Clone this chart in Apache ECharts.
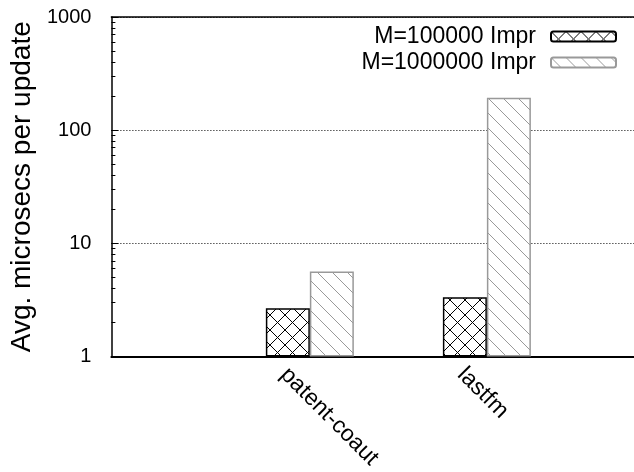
<!DOCTYPE html>
<html>
<head>
<meta charset="utf-8">
<script src="https://cdn.jsdelivr.net/npm/echarts@6/dist/echarts.min.js"></script>
<style>
  html, body { margin: 0; padding: 0; background: #fff; }
  #chart { width: 634px; height: 472px; }
</style>
</head>
<body>
<div id="chart"></div>
<script>
// data
const categories = ['patent-coaut', 'lastfm'];
const seriesNames = ['M=100000 Impr', 'M=1000000 Impr'];
const impr100k = [2.67, 3.34];
const impr1m = [5.65, 193];
const yMajor = [1, 10, 100, 1000];
const yMinor = [2, 3, 4, 5, 6, 7, 8, 9, 20, 30, 40, 50, 60, 70, 80, 90, 200, 300, 400, 500, 600, 700, 800, 900];

const FONT = '"Liberation Sans", Arial, sans-serif';

// gnuplot-like fill patterns
function makeHatch(color, cross, size, lw) {
  const c = document.createElement('canvas');
  c.width = size;
  c.height = size;
  const ctx = c.getContext('2d');
  ctx.fillStyle = '#fff';
  ctx.fillRect(0, 0, size, size);
  ctx.strokeStyle = color;
  ctx.lineWidth = lw;
  for (let k = -1; k <= 1; k++) {
    ctx.beginPath();
    ctx.moveTo(k * size, 0);
    ctx.lineTo(k * size + size, size);
    ctx.stroke();
    if (cross) {
      ctx.beginPath();
      ctx.moveTo(k * size + size, 0);
      ctx.lineTo(k * size, size);
      ctx.stroke();
    }
  }
  return c;
}

const crossPat = { image: makeHatch('#000', true, 15, 1), repeat: 'repeat' };
const hatchPat = { image: makeHatch('#999', false, 15, 1), repeat: 'repeat' };

const chart = echarts.init(document.getElementById('chart'));

const xMin = -1.121;
const xMax = 1.831;

const option = {
  animation: false,
  backgroundColor: '#fff',
  textStyle: { fontFamily: FONT },
  grid: { left: 110, right: 0, top: 17, bottom: 114 },
  legend: {
    orient: 'vertical',
    right: 12,
    top: 20,
    align: 'right',
    itemWidth: 65,
    itemHeight: 10,
    itemGap: 3,
    textStyle: { fontFamily: FONT, fontSize: 23, lineHeight: 23, color: '#000', padding: [0, 10, 0, 0] },
    data: seriesNames
  },
  xAxis: [
    {
      type: 'value',
      min: xMin,
      max: xMax,
      axisLine: { show: true, onZero: false, lineStyle: { color: '#000', width: 2 } },
      axisTick: { show: false },
      splitLine: { show: false },
      axisLabel: {
        customValues: categories.map((c, i) => i),
        formatter: (v) => categories[Math.round(v)] || '',
        rotate: -45,
        fontSize: 23,
        lineHeight: 23,
        color: '#000',
        fontFamily: FONT,
        verticalAlign: 'top',
        padding: [25, 0, 0, 0],
        margin: -11
      }
    },
    {
      type: 'value',
      position: 'top',
      min: xMin,
      max: xMax,
      axisLine: { show: true, onZero: false, lineStyle: { color: '#000', width: 1.5 } },
      axisTick: { show: false },
      axisLabel: { show: false },
      splitLine: { show: false }
    }
  ],
  yAxis: [
    {
      type: 'log',
      logBase: 10,
      min: 1,
      max: 1000,
      name: 'Avg. microsecs per update',
      nameLocation: 'middle',
      nameGap: 71,
      nameTextStyle: { fontSize: 28, color: '#000', fontFamily: FONT },
      axisLine: { show: true, onZero: false, lineStyle: { color: '#000', width: 1.5 } },
      axisTick: { show: true, inside: true, length: 7, customValues: yMajor, lineStyle: { color: '#000' } },
      splitLine: { show: true, lineStyle: { color: '#000', width: 1, type: [1, 2] } },
      axisLabel: {
        customValues: yMajor,
        fontSize: 20,
        color: '#000',
        fontFamily: FONT,
        margin: 20,
        formatter: (v) => String(v)
      }
    },
    {
      // minor ticks only
      type: 'log',
      logBase: 10,
      min: 1,
      max: 1000,
      position: 'left',
      axisLine: { show: false, onZero: false },
      axisTick: { show: true, inside: true, length: 4, customValues: yMinor, lineStyle: { color: '#000' } },
      axisLabel: { show: false },
      splitLine: { show: false }
    }
  ],
  series: [
    {
      name: seriesNames[0],
      type: 'bar',
      barWidth: 44,
      barGap: '0%',
      data: impr100k.map((v, i) => [i, v]),
      itemStyle: { color: crossPat, borderColor: '#000', borderWidth: 1.5 }
    },
    {
      name: seriesNames[1],
      type: 'bar',
      barWidth: 44,
      barGap: '0%',
      data: impr1m.map((v, i) => [i, v]),
      itemStyle: { color: hatchPat, borderColor: '#999', borderWidth: 1.5 }
    }
  ]
};

chart.setOption(option);
</script>
</body>
</html>
